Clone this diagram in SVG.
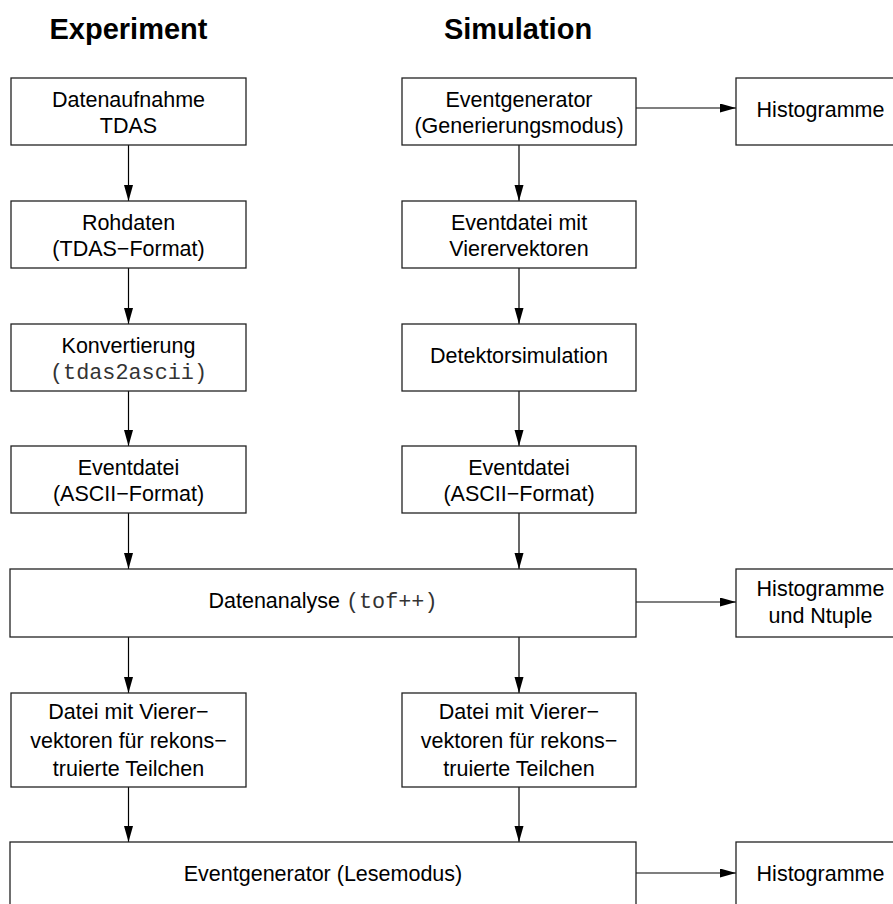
<svg xmlns="http://www.w3.org/2000/svg" width="893" height="904" viewBox="0 0 893 904">
<style>
.box{fill:#fff;stroke:#222;stroke-width:1.3}
.t{font-family:"Liberation Sans",Arial,sans-serif;font-size:21.5px;fill:#000;text-anchor:middle}
.m{font-family:"Liberation Mono","Courier New",monospace;font-size:21.8px;fill:#333}
.h{font-family:"Liberation Sans",Arial,sans-serif;font-size:29px;font-weight:bold;fill:#000;text-anchor:middle}
.c{stroke:#000;stroke-width:1.2;fill:none;marker-end:url(#ah)}
</style>
<defs>
<marker id="ah" markerUnits="userSpaceOnUse" markerWidth="17" markerHeight="10" refX="16" refY="4.5" orient="auto">
<path d="M0,0 L16,4.5 L0,9 Z" fill="#000"/>
</marker>
</defs>
<rect width="893" height="904" fill="#fff"/>
<text class="h" x="128.5" y="39">Experiment</text>
<text class="h" x="518" y="39">Simulation</text>

<g id="connectors">
<line class="c" x1="128.5" y1="145" x2="128.5" y2="201"/>
<line class="c" x1="128.5" y1="268" x2="128.5" y2="324"/>
<line class="c" x1="128.5" y1="391" x2="128.5" y2="446"/>
<line class="c" x1="128.5" y1="513" x2="128.5" y2="569"/>
<line class="c" x1="128.5" y1="637" x2="128.5" y2="693"/>
<line class="c" x1="128.5" y1="787" x2="128.5" y2="842"/>
<line class="c" x1="519" y1="145" x2="519" y2="201"/>
<line class="c" x1="519" y1="268" x2="519" y2="324"/>
<line class="c" x1="519" y1="391" x2="519" y2="446"/>
<line class="c" x1="519" y1="513" x2="519" y2="569"/>
<line class="c" x1="519" y1="637" x2="519" y2="693"/>
<line class="c" x1="519" y1="787" x2="519" y2="842"/>
<line class="c" x1="636" y1="108" x2="736" y2="108"/>
<line class="c" x1="636" y1="602" x2="736" y2="602"/>
<line class="c" x1="636" y1="873" x2="736" y2="873"/>
</g>

<g id="datenaufnahme">
<rect class="box" x="11" y="78" width="235" height="67"/>
<text class="t" x="128.5" y="106.5">Datenaufnahme</text>
<text class="t" x="128.5" y="132.5">TDAS</text>
</g>
<g id="rohdaten">
<rect class="box" x="11" y="201" width="235" height="67"/>
<text class="t" x="128.5" y="229.5">Rohdaten</text>
<text class="t" x="128.5" y="255.5">(TDAS−Format)</text>
</g>
<g id="konvertierung">
<rect class="box" x="11" y="324" width="235" height="67"/>
<text class="t" x="128.5" y="352.5">Konvertierung</text>
<text class="t" x="128.5" y="378.5"><tspan class="m">(tdas2ascii)</tspan></text>
</g>
<g id="eventdatei-exp">
<rect class="box" x="11" y="446" width="235" height="67"/>
<text class="t" x="128.5" y="474.5">Eventdatei</text>
<text class="t" x="128.5" y="500.5">(ASCII−Format)</text>
</g>

<g id="eventgenerator-gen">
<rect class="box" x="402" y="78" width="234" height="67"/>
<text class="t" x="519" y="106.5">Eventgenerator</text>
<text class="t" x="519" y="132.5">(Generierungsmodus)</text>
</g>
<g id="histogramme-1">
<rect class="box" x="736" y="78" width="200" height="67"/>
<text class="t" x="820.5" y="117">Histogramme</text>
</g>
<g id="eventdatei-vierer">
<rect class="box" x="402" y="201" width="234" height="67"/>
<text class="t" x="519" y="229.5">Eventdatei mit</text>
<text class="t" x="519" y="255.5">Vierervektoren</text>
</g>
<g id="detektorsimulation">
<rect class="box" x="402" y="324" width="234" height="67"/>
<text class="t" x="519" y="363">Detektorsimulation</text>
</g>
<g id="eventdatei-sim">
<rect class="box" x="402" y="446" width="234" height="67"/>
<text class="t" x="519" y="474.5">Eventdatei</text>
<text class="t" x="519" y="500.5">(ASCII−Format)</text>
</g>

<g id="datenanalyse">
<rect class="box" x="10" y="569" width="626" height="68"/>
<text class="t" x="323" y="608">Datenanalyse <tspan class="m">(tof++)</tspan></text>
</g>
<g id="histogramme-2">
<rect class="box" x="736" y="569" width="200" height="68"/>
<text class="t" x="820.5" y="596">Histogramme</text>
<text class="t" x="820.5" y="623">und Ntuple</text>
</g>

<g id="datei-exp">
<rect class="box" x="11" y="693" width="235" height="94"/>
<text class="t" x="128.5" y="719">Datei mit Vierer−</text>
<text class="t" x="128.5" y="747.5">vektoren für rekons−</text>
<text class="t" x="128.5" y="776">truierte Teilchen</text>
</g>
<g id="datei-sim">
<rect class="box" x="402" y="693" width="234" height="94"/>
<text class="t" x="519" y="719">Datei mit Vierer−</text>
<text class="t" x="519" y="747.5">vektoren für rekons−</text>
<text class="t" x="519" y="776">truierte Teilchen</text>
</g>

<g id="eventgenerator-lese">
<rect class="box" x="10" y="842" width="626" height="80"/>
<text class="t" x="323" y="881">Eventgenerator (Lesemodus)</text>
</g>
<g id="histogramme-3">
<rect class="box" x="736" y="842" width="200" height="80"/>
<text class="t" x="820.5" y="881">Histogramme</text>
</g>
</svg>
